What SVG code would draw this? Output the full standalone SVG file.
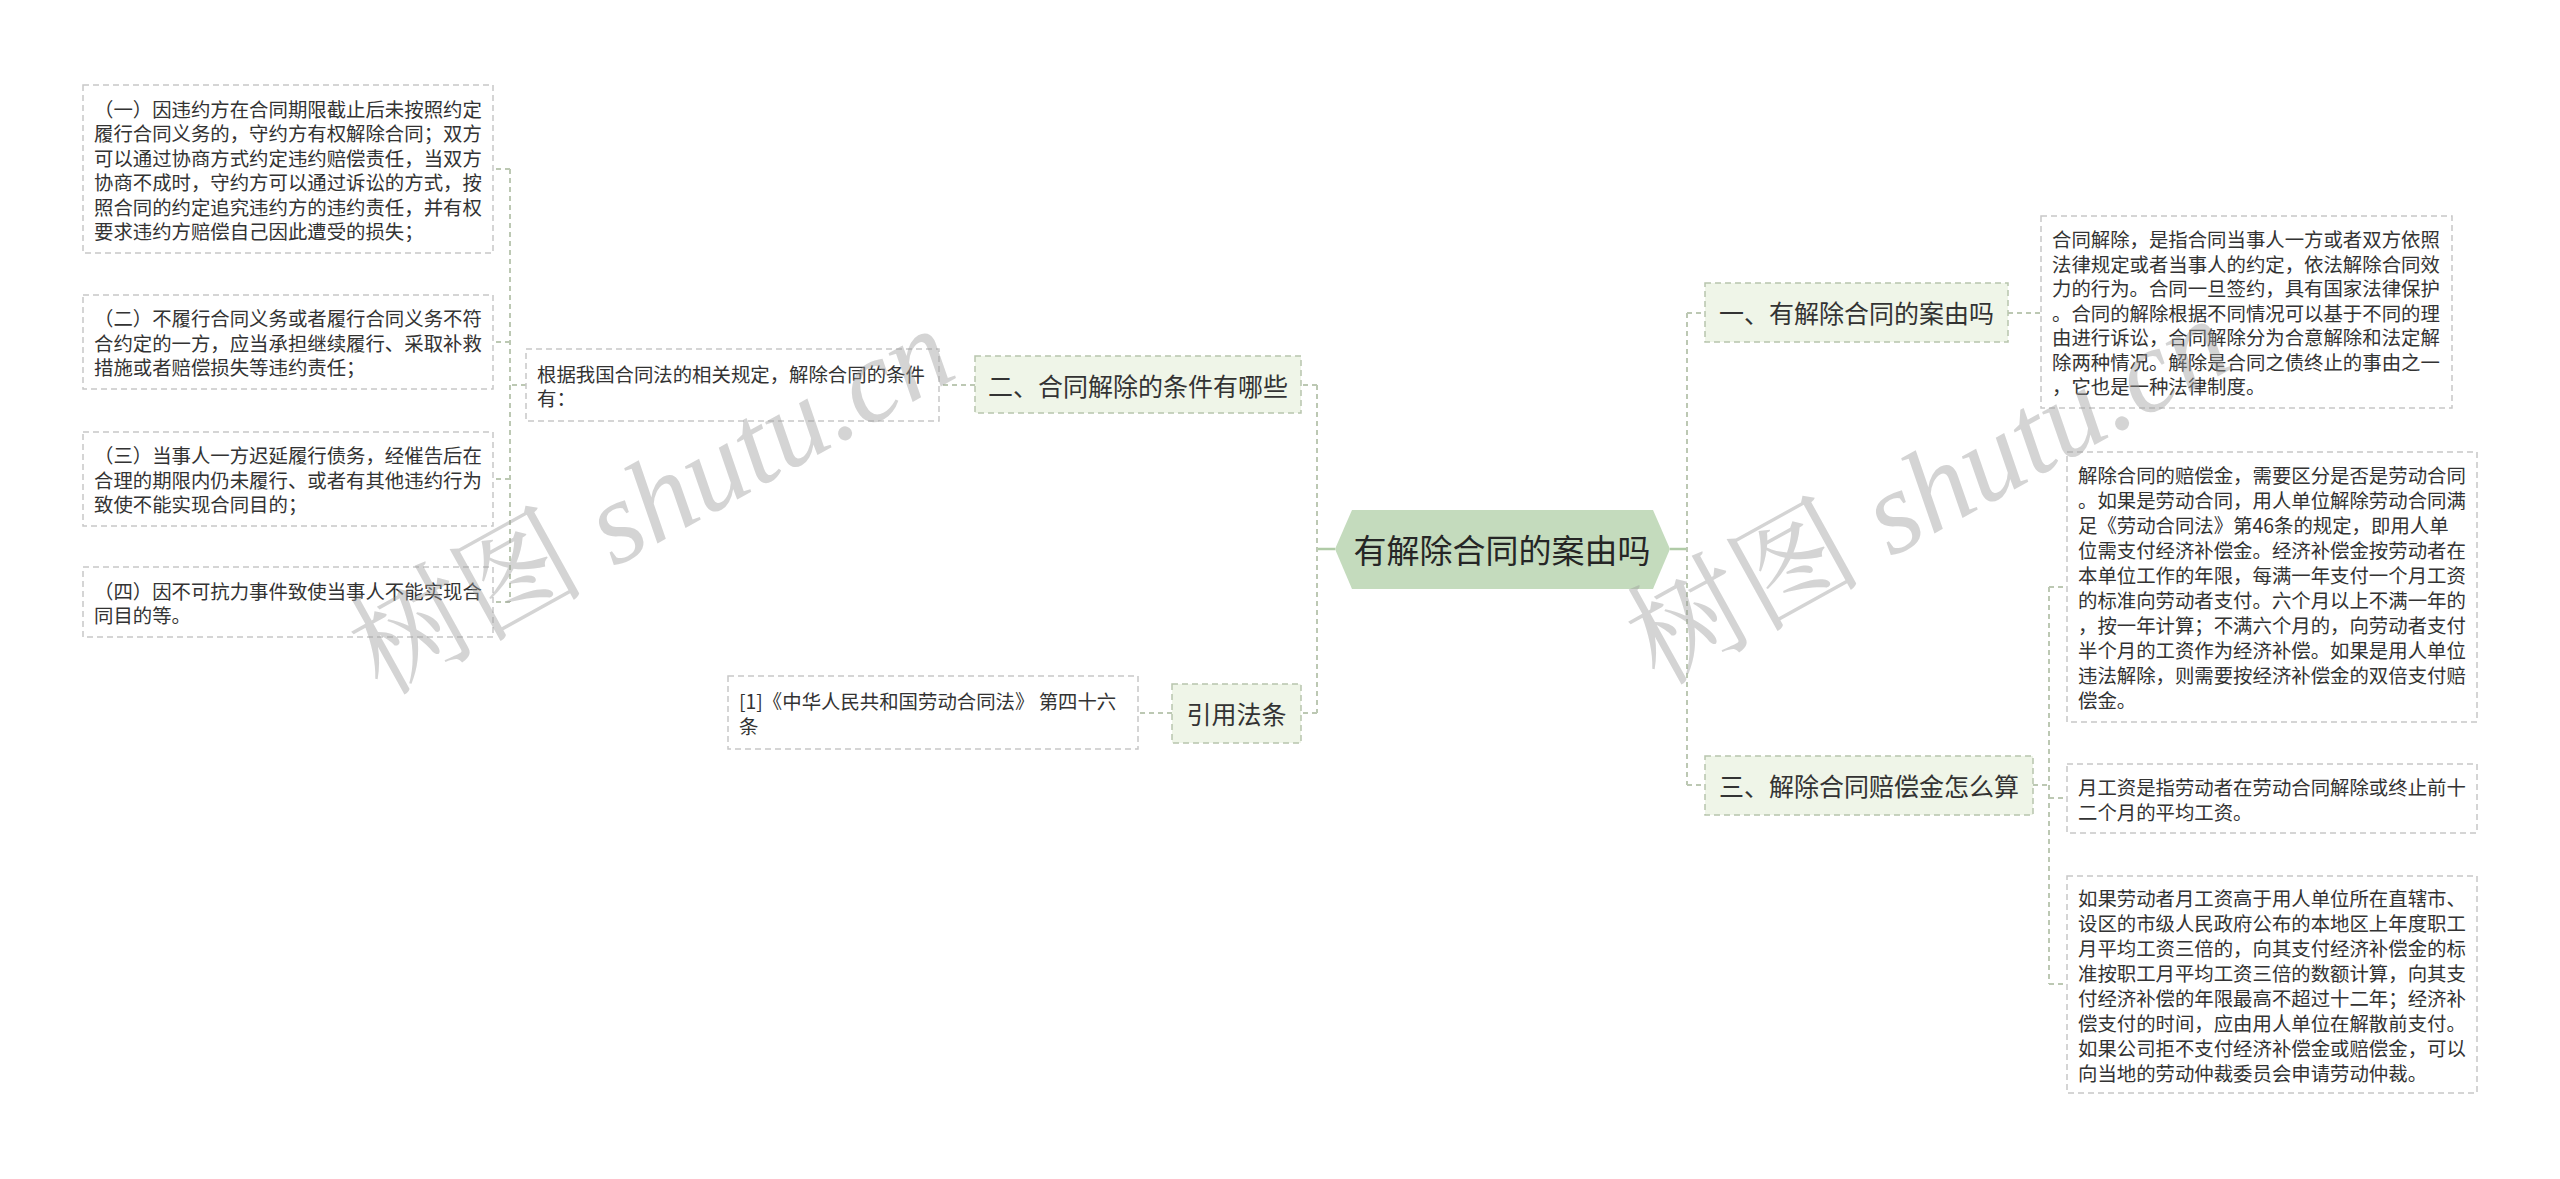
<svg xmlns="http://www.w3.org/2000/svg" width="2560" height="1179" viewBox="0 0 2560 1179">
<style>
.bg{fill:#ffffff}
.leaf{fill:#ffffff;stroke:#c8c8c8;stroke-width:1.5;stroke-dasharray:6 4}
.l1{fill:#eff5e8;stroke:#b8c5ad;stroke-width:1.5;stroke-dasharray:6 4}
.root{fill:#c4dbbd}
.t{font-family:"Noto Sans CJK SC","Noto Sans",sans-serif;fill:#333333;dominant-baseline:central}
.ts{font-size:19.4px}
.tm{font-size:25px;text-anchor:middle}
.tr{font-size:33px;text-anchor:middle;fill:#262626}
.c{fill:none;stroke:#bcc8b3;stroke-width:2;stroke-dasharray:5 4}
.cs{fill:none;stroke:#b0cba7;stroke-width:2.5}
.wm{font-family:"Liberation Serif","Noto Serif CJK SC","Noto Sans CJK SC",serif;font-size:118px;fill:#9a9a9a;opacity:0.42}
</style>
<rect class="bg" x="0" y="0" width="2560" height="1179"/>
<g id="connectors">
<path class="cs" d="M1335 549H1317"/>
<path class="c" d="M1317 385V713M1317 385H1301M1317 713H1301"/>
<path class="c" d="M975 385H939"/>
<path class="c" d="M526 385H510M510 169V602M510 169H493M510 342H493M510 479H493M510 602H493"/>
<path class="c" d="M1172 713H1138"/>
<path class="cs" d="M1670 549H1687"/>
<path class="c" d="M1687 313V785M1687 313H1705M1687 785H1705"/>
<path class="c" d="M2008 313H2041"/>
<path class="c" d="M2033 785H2049M2049 587V984M2049 587H2067M2049 798H2067M2049 984H2067"/>
</g>
<g id="root">
<path class="root" d="M1335 549L1352 510H1653L1670 549L1653 589H1352Z"/>
<text class="t tr" x="1502" y="549">有解除合同的案由吗</text>
</g>
<g id="n-er">
<rect class="l1" x="975" y="356" width="326" height="57"/>
<text class="t tm" x="1138" y="385">二、合同解除的条件有哪些</text>
</g>
<g id="n-yinyong">
<rect class="l1" x="1172" y="684" width="129" height="59"/>
<text class="t tm" x="1236.5" y="713">引用法条</text>
</g>
<g id="n-yi">
<rect class="l1" x="1705" y="283" width="303" height="59"/>
<text class="t tm" x="1856.5" y="312">一、有解除合同的案由吗</text>
</g>
<g id="n-san">
<rect class="l1" x="1705" y="756" width="328" height="59"/>
<text class="t tm" x="1869" y="785">三、解除合同赔偿金怎么算</text>
</g>
<g id="n-genju">
<rect class="leaf" x="526" y="349" width="413" height="72"/>
<text class="t ts" x="537" y="373">根据我国合同法的相关规定，解除合同的条件</text>
<text class="t ts" x="537" y="397.5">有：</text>
</g>
<g id="n-c1">
<rect class="leaf" x="83" y="85" width="410" height="168"/>
<text class="t ts" x="94" y="108">（一）因违约方在合同期限截止后未按照约定</text>
<text class="t ts" x="94" y="132.5">履行合同义务的，守约方有权解除合同；双方</text>
<text class="t ts" x="94" y="157">可以通过协商方式约定违约赔偿责任，当双方</text>
<text class="t ts" x="94" y="181.5">协商不成时，守约方可以通过诉讼的方式，按</text>
<text class="t ts" x="94" y="206">照合同的约定追究违约方的违约责任，并有权</text>
<text class="t ts" x="94" y="230.5">要求违约方赔偿自己因此遭受的损失；</text>
</g>
<g id="n-c2">
<rect class="leaf" x="83" y="295" width="410" height="94"/>
<text class="t ts" x="94" y="317.5">（二）不履行合同义务或者履行合同义务不符</text>
<text class="t ts" x="94" y="342">合约定的一方，应当承担继续履行、采取补救</text>
<text class="t ts" x="94" y="366.5">措施或者赔偿损失等违约责任；</text>
</g>
<g id="n-c3">
<rect class="leaf" x="83" y="432" width="410" height="94"/>
<text class="t ts" x="94" y="454.5">（三）当事人一方迟延履行债务，经催告后在</text>
<text class="t ts" x="94" y="479">合理的期限内仍未履行、或者有其他违约行为</text>
<text class="t ts" x="94" y="503.5">致使不能实现合同目的；</text>
</g>
<g id="n-c4">
<rect class="leaf" x="83" y="567" width="410" height="70"/>
<text class="t ts" x="94" y="590">（四）因不可抗力事件致使当事人不能实现合</text>
<text class="t ts" x="94" y="614.5">同目的等。</text>
</g>
<g id="n-law">
<rect class="leaf" x="728" y="676" width="410" height="73"/>
<text class="t ts" x="739" y="700.5">[1]《中华人民共和国劳动合同法》 第四十六</text>
<text class="t ts" x="739" y="725">条</text>
</g>
<g id="n-def">
<rect class="leaf" x="2041" y="216" width="411" height="192"/>
<text class="t ts" x="2052" y="238.5">合同解除，是指合同当事人一方或者双方依照</text>
<text class="t ts" x="2052" y="263">法律规定或者当事人的约定，依法解除合同效</text>
<text class="t ts" x="2052" y="287.5">力的行为。合同一旦签约，具有国家法律保护</text>
<text class="t ts" x="2052" y="312">。合同的解除根据不同情况可以基于不同的理</text>
<text class="t ts" x="2052" y="336.5">由进行诉讼，合同解除分为合意解除和法定解</text>
<text class="t ts" x="2052" y="361">除两种情况。解除是合同之债终止的事由之一</text>
<text class="t ts" x="2052" y="385.5">，它也是一种法律制度。</text>
</g>
<g id="n-comp">
<rect class="leaf" x="2067" y="452" width="410" height="270"/>
<text class="t ts" x="2078" y="474.5">解除合同的赔偿金，需要区分是否是劳动合同</text>
<text class="t ts" x="2078" y="499.5">。如果是劳动合同，用人单位解除劳动合同满</text>
<text class="t ts" x="2078" y="524.5">足《劳动合同法》第46条的规定，即用人单</text>
<text class="t ts" x="2078" y="549.5">位需支付经济补偿金。经济补偿金按劳动者在</text>
<text class="t ts" x="2078" y="574.5">本单位工作的年限，每满一年支付一个月工资</text>
<text class="t ts" x="2078" y="599.5">的标准向劳动者支付。六个月以上不满一年的</text>
<text class="t ts" x="2078" y="624.5">，按一年计算；不满六个月的，向劳动者支付</text>
<text class="t ts" x="2078" y="649.5">半个月的工资作为经济补偿。如果是用人单位</text>
<text class="t ts" x="2078" y="674.5">违法解除，则需要按经济补偿金的双倍支付赔</text>
<text class="t ts" x="2078" y="699.5">偿金。</text>
</g>
<g id="n-wage">
<rect class="leaf" x="2067" y="764" width="410" height="69"/>
<text class="t ts" x="2078" y="786">月工资是指劳动者在劳动合同解除或终止前十</text>
<text class="t ts" x="2078" y="811">二个月的平均工资。</text>
</g>
<g id="n-high">
<rect class="leaf" x="2067" y="876" width="410" height="217"/>
<text class="t ts" x="2078" y="897">如果劳动者月工资高于用人单位所在直辖市、</text>
<text class="t ts" x="2078" y="922">设区的市级人民政府公布的本地区上年度职工</text>
<text class="t ts" x="2078" y="947">月平均工资三倍的，向其支付经济补偿金的标</text>
<text class="t ts" x="2078" y="972">准按职工月平均工资三倍的数额计算，向其支</text>
<text class="t ts" x="2078" y="997">付经济补偿的年限最高不超过十二年；经济补</text>
<text class="t ts" x="2078" y="1022">偿支付的时间，应由用人单位在解散前支付。</text>
<text class="t ts" x="2078" y="1047">如果公司拒不支付经济补偿金或赔偿金，可以</text>
<text class="t ts" x="2078" y="1072">向当地的劳动仲裁委员会申请劳动仲裁。</text>
</g>
<g id="watermarks">
<text class="wm" text-anchor="middle" transform="translate(671 536) rotate(-29)">树图 <tspan font-style="italic">shutu.cn</tspan></text>
<text class="wm" text-anchor="middle" transform="translate(1948 526) rotate(-29)">树图 <tspan font-style="italic">shutu.cn</tspan></text>
</g>
</svg>
